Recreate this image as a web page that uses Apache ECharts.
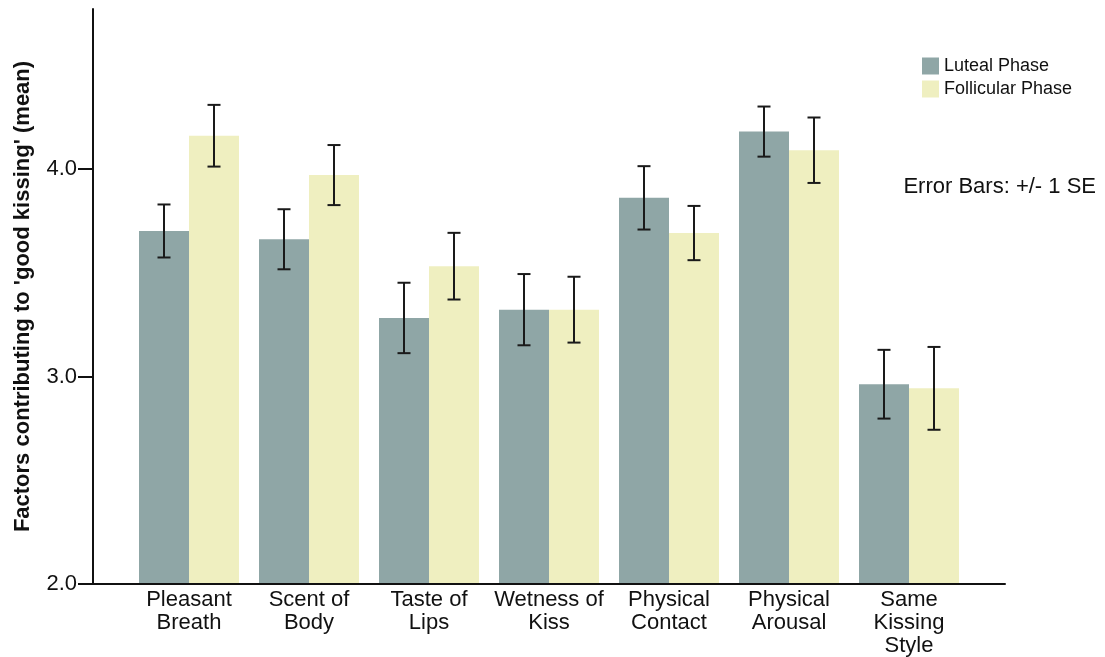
<!DOCTYPE html>
<html>
<head>
<meta charset="utf-8">
<script src="https://cdn.jsdelivr.net/npm/echarts@6/dist/echarts.min.js"></script>
<style>
html,body{margin:0;padding:0;background:#fff;}
#chart{width:1105px;height:657px;}
</style>
</head>
<body>
<div id="chart"></div>
<script>
// ---- data ----
const categories = ['Pleasant\nBreath', 'Scent of\nBody', 'Taste of\nLips', 'Wetness of\nKiss', 'Physical\nContact', 'Physical\nArousal', 'Same\nKissing\nStyle'];
const seriesNames = ['Luteal Phase', 'Follicular Phase'];
const lutealMean = [3.70, 3.66, 3.28, 3.32, 3.86, 4.18, 2.96];
const lutealSE = [0.128, 0.145, 0.170, 0.172, 0.153, 0.121, 0.166];
const follicularMean = [4.16, 3.97, 3.53, 3.32, 3.69, 4.09, 2.94];
const follicularSE = [0.149, 0.145, 0.161, 0.159, 0.131, 0.158, 0.200];
const yTicks = [2, 3, 4];
const yMin = 2.0, yMax = 4.772;

// ---- style ----
const FONT = '"Liberation Sans", Arial, sans-serif';
const BAR_W = 50;
const COLORS = ['#8fa6a6', '#efefc0'];

const chart = echarts.init(document.getElementById('chart'));

function errorSeries(means, ses, sign) {
  return {
    type: 'custom',
    xAxisIndex: 1, yAxisIndex: 1,
    z: 5,
    data: means.map((m, i) => [i, m - ses[i], m + ses[i]]),
    renderItem: function (params, api) {
      const i = api.value(0);
      const lo = api.coord([i, api.value(1)]);
      const hi = api.coord([i, api.value(2)]);
      const x = lo[0] + sign * BAR_W / 2;
      const cap = 6.5;
      const st = { stroke: '#1a1a1a', lineWidth: 2 };
      return {
        type: 'group',
        children: [
          { type: 'line', shape: { x1: x, y1: hi[1], x2: x, y2: lo[1] }, style: st },
          { type: 'line', shape: { x1: x - cap, y1: hi[1], x2: x + cap, y2: hi[1] }, style: st },
          { type: 'line', shape: { x1: x - cap, y1: lo[1], x2: x + cap, y2: lo[1] }, style: st }
        ]
      };
    }
  };
}

const option = {
  animation: false,
  backgroundColor: '#fff',
  textStyle: { fontFamily: FONT },
  grid: [
    { left: 93, right: 100, top: 9, bottom: 73 },
    { left: 129, right: 136, top: 9, bottom: 73 }
  ],
  legend: {
    orient: 'vertical',
    left: 922, top: 57,
    padding: 0,
    itemWidth: 17, itemHeight: 17, itemGap: 5,
    icon: 'rect',
    data: seriesNames,
    textStyle: { fontFamily: FONT, fontSize: 18, color: '#111' },
    selectedMode: false
  },
  graphic: [{
    type: 'text',
    right: 9, top: 176,
    style: { text: 'Error Bars: +/- 1 SE', font: '22px "Liberation Sans", Arial, sans-serif', fill: '#111' }
  }],
  xAxis: [
    {
      gridIndex: 0, type: 'value', min: 0, max: 1,
      axisLine: { show: true, onZero: false, lineStyle: { color: '#111', width: 2 } },
      axisTick: { show: false }, axisLabel: { show: false }, splitLine: { show: false }
    },
    {
      gridIndex: 1, type: 'category', data: categories,
      axisLine: { show: false }, axisTick: { show: false }, splitLine: { show: false },
      axisLabel: { color: '#111', fontSize: 22, lineHeight: 23, margin: 5, interval: 0, fontFamily: FONT }
    }
  ],
  yAxis: [
    {
      gridIndex: 0, type: 'value', min: yMin, max: yMax,
      name: "Factors contributing to 'good kissing' (mean)",
      nameLocation: 'middle', nameGap: 59,
      nameTextStyle: { fontSize: 22, fontWeight: 'bold', color: '#111', fontFamily: FONT },
      axisLine: { show: true, onZero: false, lineStyle: { color: '#111', width: 2 } },
      axisTick: { show: true, length: 15, customValues: yTicks, lineStyle: { color: '#111', width: 2 } },
      axisLabel: { customValues: yTicks, formatter: v => v.toFixed(1), color: '#111', fontSize: 22, margin: 16, fontFamily: FONT },
      splitLine: { show: false }
    },
    {
      gridIndex: 1, type: 'value', min: yMin, max: yMax, show: false
    }
  ],
  series: [
    {
      name: seriesNames[0], type: 'bar', xAxisIndex: 1, yAxisIndex: 1,
      data: lutealMean, barWidth: BAR_W, barGap: '0%',
      itemStyle: { color: COLORS[0] }
    },
    {
      name: seriesNames[1], type: 'bar', xAxisIndex: 1, yAxisIndex: 1,
      data: follicularMean, barWidth: BAR_W, barGap: '0%',
      itemStyle: { color: COLORS[1] }
    },
    errorSeries(lutealMean, lutealSE, -1),
    errorSeries(follicularMean, follicularSE, 1)
  ]
};
chart.setOption(option);
</script>
</body>
</html>
